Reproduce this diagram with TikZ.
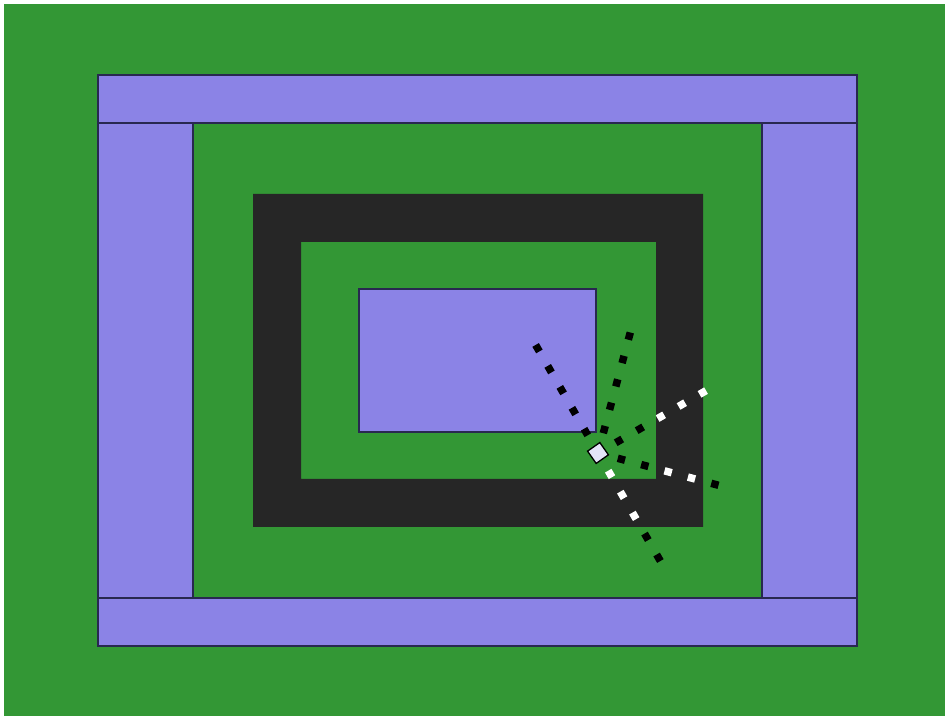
\documentclass[tikz,border=0pt]{standalone}
\usetikzlibrary{calc}
\begin{document}
\begin{tikzpicture}[x=1pt,y=1pt,
  wall/.style={fill=wallc,draw=edgec,line width=1.1pt},
  sensb/.style={fill=black,draw=none,minimum size=7.5pt,inner sep=0pt},
  sensw/.style={fill=white,draw=none,minimum size=7.5pt,inner sep=0pt},
  robot/.style={fill=robotc,draw=black,line width=1.3pt,minimum size=15pt,inner sep=0pt}]
\definecolor{bgc}{RGB}{51,151,53}
\definecolor{wallc}{RGB}{139,131,230}
\definecolor{edgec}{RGB}{40,40,80}
\definecolor{darkc}{RGB}{38,38,38}
\definecolor{robotc}{RGB}{228,228,248}
\useasboundingbox (0,0) rectangle (946,717);
\fill[white] (0,0) rectangle (946,717);
\fill[bgc] (4,1) rectangle (945,713);
% outer purple frame
\draw[wall] (98,594) rectangle (857,642);
\draw[wall] (98,119) rectangle (193,594);
\draw[wall] (762,119) rectangle (857,594);
\draw[wall] (98,71) rectangle (857,119);
% dark frame
\fill[darkc,even odd rule] (253,190) rectangle (703,523) (301,238) rectangle (656,475);
% inner purple block
\draw[wall] (359,285) rectangle (596,428);
% robot and sensor rays
\coordinate (c) at (598,264);
\foreach \ang/\cols [count=\r] in {120/{b,b,b,b,b},75/{b,b,b,b,b},30/{b,b,w,w,w},-15/{b,b,w,w,b},-60/{w,w,w,b,b}}{
  \foreach \cl [count=\k] in \cols {
    \node[sens\cl,rotate=\ang] (s\r-\k) at ($(c)+(\ang:{24.2*\k})$) {};
  }
}
\node[robot,rotate=35] (rob) at (c) {};
\end{tikzpicture}
\end{document}
